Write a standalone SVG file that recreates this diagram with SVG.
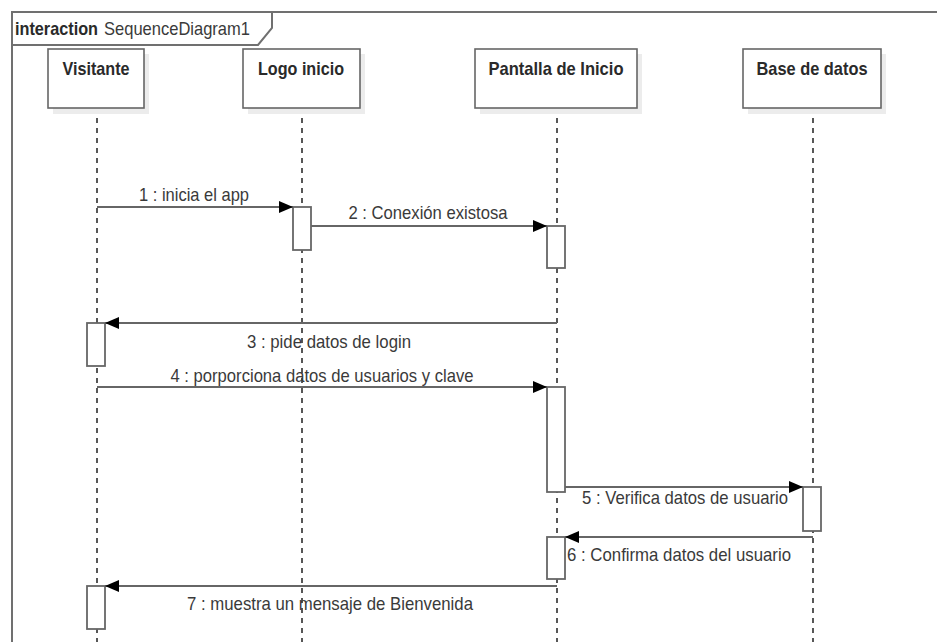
<svg xmlns="http://www.w3.org/2000/svg" width="937" height="642" viewBox="0 0 937 642">
<defs>
<style>
.frame{fill:none;stroke:#707070;stroke-width:2}
.tag{fill:#fff;stroke:#707070;stroke-width:2}
.head{fill:#fff;stroke:#666;stroke-width:1.6}
.shadow{fill:#ececec;stroke:none}
.life{stroke:#111;stroke-width:1.4;stroke-dasharray:5 5;fill:none}
.act{fill:#fff;stroke:#666;stroke-width:1.8}
.msg{stroke:#666;stroke-width:2;fill:none;marker-end:url(#arr)}
.t{font-family:"Liberation Sans",Arial,sans-serif;font-size:18.5px;fill:#3a3a3a}
.b{font-weight:bold;fill:#2a2a2a}
.c{text-anchor:middle}
</style>
<marker id="arr" viewBox="0 0 14 12" refX="14" refY="6" markerWidth="14" markerHeight="12" markerUnits="userSpaceOnUse" orient="auto">
<path d="M0,0 L14,6 L0,12 z" fill="#000"/>
</marker>
</defs>
<rect width="937" height="642" fill="#fff"/>
<g id="frame">
<path class="frame" d="M12,642 L12,12 L940,12"/>
<path class="tag" d="M12,12 L272,12 L272,28 L258,45 L12,45 z"/>
<text class="t b" x="15" y="35" textLength="83" lengthAdjust="spacingAndGlyphs">interaction</text>
<text class="t" x="104" y="35" textLength="146" lengthAdjust="spacingAndGlyphs">SequenceDiagram1</text>
</g>
<g id="lifelines">
<line class="life" x1="97" y1="108" x2="97" y2="642"/>
<line class="life" x1="302" y1="108" x2="302" y2="642"/>
<line class="life" x1="557" y1="108" x2="557" y2="642"/>
<line class="life" x1="813" y1="108" x2="813" y2="642"/>
</g>
<g id="visitante">
<rect class="shadow" x="53" y="54" width="96" height="60"/>
<rect class="head" x="48" y="49" width="96" height="59"/>
<text class="t b c" x="96" y="75" textLength="67" lengthAdjust="spacingAndGlyphs">Visitante</text>
</g>
<g id="logo">
<rect class="shadow" x="248" y="54" width="117" height="60"/>
<rect class="head" x="243" y="49" width="117" height="59"/>
<text class="t b c" x="301" y="75" textLength="86" lengthAdjust="spacingAndGlyphs">Logo inicio</text>
</g>
<g id="pantalla">
<rect class="shadow" x="480" y="54" width="162" height="60"/>
<rect class="head" x="475" y="49" width="162" height="59"/>
<text class="t b c" x="556" y="75" textLength="135" lengthAdjust="spacingAndGlyphs">Pantalla de Inicio</text>
</g>
<g id="base">
<rect class="shadow" x="748" y="54" width="138" height="60"/>
<rect class="head" x="743" y="49" width="138" height="59"/>
<text class="t b c" x="812" y="75" textLength="111" lengthAdjust="spacingAndGlyphs">Base de datos</text>
</g>
<g id="activations">
<rect class="act" x="293" y="207" width="18" height="43"/>
<rect class="act" x="547" y="226" width="18" height="42"/>
<rect class="act" x="87" y="323" width="18" height="43"/>
<rect class="act" x="547" y="387" width="18" height="105"/>
<rect class="act" x="803" y="487" width="18" height="44"/>
<rect class="act" x="547" y="537" width="18" height="42"/>
<rect class="act" x="87" y="586" width="18" height="43"/>
</g>
<g id="connectors">
<line class="msg" x1="97" y1="207" x2="293" y2="207"/>
<line class="msg" x1="311" y1="226" x2="547" y2="226"/>
<line class="msg" x1="557" y1="323" x2="105" y2="323"/>
<line class="msg" x1="97" y1="387" x2="547" y2="387"/>
<line class="msg" x1="565" y1="487" x2="803" y2="487"/>
<line class="msg" x1="813" y1="537" x2="565" y2="537"/>
<line class="msg" x1="557" y1="586" x2="105" y2="586"/>
<text class="t c" x="194" y="201" textLength="110" lengthAdjust="spacingAndGlyphs">1 : inicia el app</text>
<text class="t c" x="428" y="219" textLength="159" lengthAdjust="spacingAndGlyphs">2 : Conexión existosa</text>
<text class="t c" x="329" y="348" textLength="164" lengthAdjust="spacingAndGlyphs">3 : pide datos de login</text>
<text class="t c" x="322" y="382" textLength="303" lengthAdjust="spacingAndGlyphs">4 : porporciona datos de usuarios y clave</text>
<text class="t c" x="685" y="504" textLength="206" lengthAdjust="spacingAndGlyphs">5 : Verifica datos de usuario</text>
<text class="t c" x="679" y="561" textLength="224" lengthAdjust="spacingAndGlyphs">6 : Confirma datos del usuario</text>
<text class="t c" x="330" y="610" textLength="286" lengthAdjust="spacingAndGlyphs">7 : muestra un mensaje de Bienvenida</text>
</g>
</svg>
